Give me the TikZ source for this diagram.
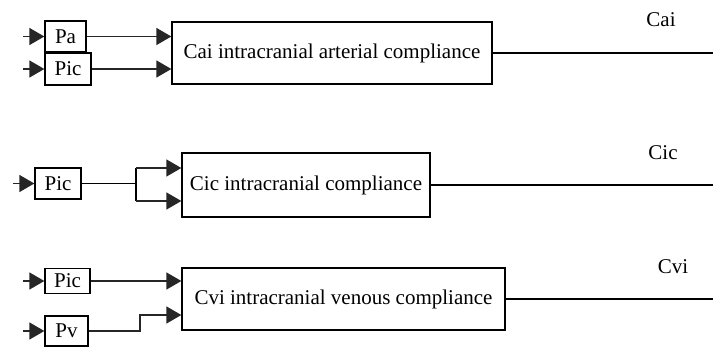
\documentclass[tikz,border=0pt]{standalone}
\usepackage{fontspec}
\setmainfont{Liberation Serif}
\usetikzlibrary{arrows.meta}
\begin{document}
\begin{tikzpicture}[x=1pt,y=-1pt,
  txt/.style={font=\fontsize{21}{25}\selectfont},
  sbox/.style={draw, line width=1.3pt, inner sep=0pt, txt},
  ln/.style={line width=1.4pt},
  arr/.style={line width=1.4pt, -{Triangle[length=15pt,width=17pt]}, color=black!85}]
\useasboundingbox (0,0) rectangle (713,348);
% ---------- top ----------
\node[sbox, minimum width=41pt, minimum height=31pt] (pa) at (65.5,36.5) {Pa};
\node[sbox, minimum width=46pt, minimum height=32pt] (pic1) at (68,69) {Pic};
\node[sbox, minimum width=320pt, minimum height=62pt] (cai) at (332,53) {Cai intracranial arterial compliance};
\coordinate (ina) at (23,36.5);
\coordinate (inb) at (23,69);
\coordinate (outa) at (713,53);
\node[txt] (lcai) at (661,20) {Cai};
\draw[arr] (ina) -- (pa.west);
\draw[arr] (inb) -- (pic1.west);
\draw[arr] (pa.east) -- (pa.east -| cai.west);
\draw[arr] (pic1.east) -- (pic1.east -| cai.west);
\draw[ln] (cai.east) -- (outa);
% ---------- middle ----------
\node[sbox, minimum width=46pt, minimum height=31pt] (pic2) at (58,183.5) {Pic};
\node[sbox, minimum width=248pt, minimum height=64pt] (cic) at (306,185) {Cic intracranial compliance};
\coordinate (inc) at (13,183.5);
\coordinate (split) at (136,183.5);
\coordinate (s1) at (136,168);
\coordinate (s2) at (136,201);
\coordinate (outb) at (713,185);
\node[txt] (lcic) at (663,153) {Cic};
\draw[arr] (inc) -- (pic2.west);
\draw[ln] (pic2.east) -- (split);
\draw[ln] (s1) -- (s2);
\draw[arr] (s1) -- (s1 -| cic.west);
\draw[arr] (s2) -- (s2 -| cic.west);
\draw[ln] (cic.east) -- (outb);
% ---------- bottom ----------
\node[sbox, minimum width=45pt, minimum height=25pt] (pic3) at (67.5,281) {Pic};
\node[sbox, minimum width=43pt, minimum height=30pt] (pv) at (66.5,331) {Pv};
\node[sbox, minimum width=323pt, minimum height=62pt] (cvi) at (343.5,299) {Cvi intracranial venous compliance};
\coordinate (ind) at (23,281);
\coordinate (ine) at (23,331);
\coordinate (b1) at (140,331);
\coordinate (b2) at (140,315);
\coordinate (outc) at (713,299);
\node[txt] (lcvi) at (673,267) {Cvi};
\draw[arr] (ind) -- (pic3.west);
\draw[arr] (ine) -- (pv.west);
\draw[arr] (pic3.east) -- (pic3.east -| cvi.west);
\draw[arr] (pv.east) -- (b1) -- (b2) -- (b2 -| cvi.west);
\draw[ln] (cvi.east) -- (outc);
\end{tikzpicture}
\end{document}
